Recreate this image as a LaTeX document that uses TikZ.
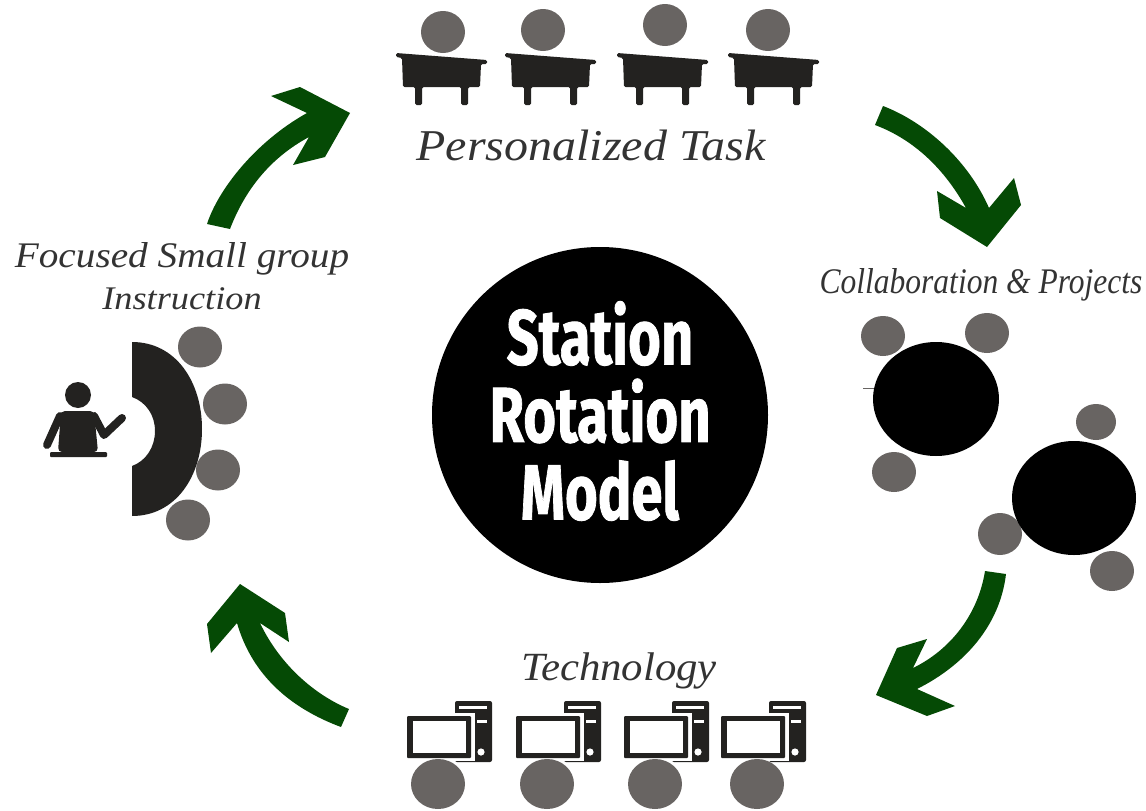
\documentclass[tikz,border=0pt]{standalone}
\usepackage{fontspec}
\setmainfont{Liberation Serif}
\newfontfamily\titlefont{Fira Sans}[BoldFont={* Bold},BoldFeatures={FakeBold=1.2}]
\definecolor{arrowgreen}{HTML}{054A05}
\definecolor{headgrey}{HTML}{686462}
\definecolor{furn}{HTML}{232220}
\definecolor{labelgrey}{HTML}{333333}
\tikzset{
  head/.style={fill=headgrey,draw=none},
  flow/.style={fill=arrowgreen,draw=none},
  furniture/.style={fill=furn,draw=none},
  tablefill/.style={fill=black,draw=none},
  lab/.style={anchor=base,text=labelgrey,inner sep=0pt,font=\itshape\fontsize{#1}{#1}\selectfont},
  pics/desk/.style={code={
    \fill[furniture,rounded corners=1.5pt] (0,0) -- (91,7) -- (91,11) -- (85,11) -- (84,34) -- (72,34) -- (72,52) -- (65,52) -- (65,34) -- (26,34) -- (26,52) -- (19,52) -- (19,34) -- (7,34) -- (6,5) -- (0,4) -- cycle;
  }},
  pics/computer/.style={code={
    \fill[furniture,rounded corners=2pt] (48,0) rectangle (85,61);
    \fill[white] (52,5) rectangle (80,8);
    \fill[white] (70,19) rectangle (80,22);
    \fill[white] (74,51) circle (3.6);
    \fill[white] (-3,12) rectangle (68,60);
    \fill[furniture,rounded corners=1pt] (0,15) rectangle (64,57);
    \fill[white] (6,20) rectangle (59,52);
  }}
}
\begin{document}
\begin{tikzpicture}[x=1pt,y=-1pt]
\useasboundingbox (0,0) rectangle (1146,811);

% centre
\node[circle,fill=black,minimum size=336pt,inner sep=0pt] (hub) at (600,415) {};
\node[text=white,inner sep=0pt,align=center,xscale=.72,font=\titlefont\bfseries\fontsize{78}{77.5}\selectfont] (title) at (600,411) {Station\\Rotation\\Model};

% arrows
\fill[flow] (207,224) .. controls (218,190) and (255,142) .. (307,113)
  -- (271,96) -- (300,87) -- (350,113) -- (325,157) -- (293,165) -- (309,137)
  .. controls (270,158) and (245,190) .. (230,229) -- cycle;
\fill[flow] (883,106) .. controls (925,122) and (968,160) .. (989,208)
  -- (1014,178) -- (1021,205) -- (987,247) -- (940,218) -- (937,191) -- (966,208)
  .. controls (945,170) and (915,140) .. (875,125) -- cycle;
\fill[flow] (1006,574) .. controls (1000,625) and (965,665) .. (917,689)
  -- (955,706) -- (927,716) -- (876,695) -- (897,648) -- (927,639) -- (913,668)
  .. controls (950,650) and (978,615) .. (985,571) -- cycle;
\fill[flow] (349,709) .. controls (315,695) and (280,665) .. (260,623)
  -- (289,642) -- (285,613) -- (240,584) -- (207,624) -- (211,653) -- (237,623)
  .. controls (252,675) and (290,708) .. (341,727) -- cycle;

% labels
\node[lab=44,xscale=1.09] (taskl) at (591,160) {Personalized Task};
\node[lab=36,xscale=1.09] (groupl) at (182,267) {Focused Small group};
\node[lab=33,xscale=1.1] (instrl) at (182,309) {Instruction};
\node[lab=36,xscale=.875] (collabl) at (981,293) {Collaboration \& Projects};
\node[lab=40,xscale=1.07] (techl) at (619,680) {Technology};

% personalised task
\foreach \hx/\hy/\dx in {443/32/0,543/30/109,665/25/221,768/30/332}{
  \fill[head] (\hx,\hy) ellipse (22 and 21);
  \pic at (396+\dx,53) {desk};
}

% technology
\foreach \hx/\dx in {438/0,547/109,655/217,757/314}{
  \pic at (407+\dx,701) {computer};
  \fill[head] (\hx,784) ellipse (27 and 25);
}

% small group
\foreach \cx/\cy in {200/347,225/404,218/470,188/520}{
  \fill[head] (\cx,\cy) ellipse (22 and 20.5);
}
\fill[furniture] (132,342) .. controls (176,342) and (202,382) .. (202,429)
  .. controls (202,476) and (176,516) .. (132,516) -- (132,466)
  .. controls (146,461) and (155,447) .. (155,431)
  .. controls (155,415) and (146,402) .. (132,397) -- cycle;
% teacher
\fill[furniture] (78,395) circle (13);
\fill[furniture,rounded corners=4pt] (61,411) -- (94,411) -- (98,452) -- (58,452) -- cycle;
\fill[furniture,rounded corners=1pt] (50,452) rectangle (107,457);
\draw[furn,line width=8pt,line cap=round,line join=round] (60,416) -- (47,445);
\draw[furn,line width=8pt,line cap=round,line join=round] (94,416) -- (104,435) -- (122,418);

% collaboration
\foreach \cx/\cy/\ra/\rb in {883/336/22/20,987/333/22/20,894/472/22/20,1096/422/20/18,1000/534/22/21,1112/571/22/20}{
  \fill[head] (\cx,\cy) ellipse ({\ra} and {\rb});
}
\draw[headgrey,line width=.7pt] (863,388) -- (876,388);
\fill[tablefill] (936,399) ellipse (63 and 57);
\fill[tablefill] (1074,498) ellipse (62 and 57);
\end{tikzpicture}
\end{document}
